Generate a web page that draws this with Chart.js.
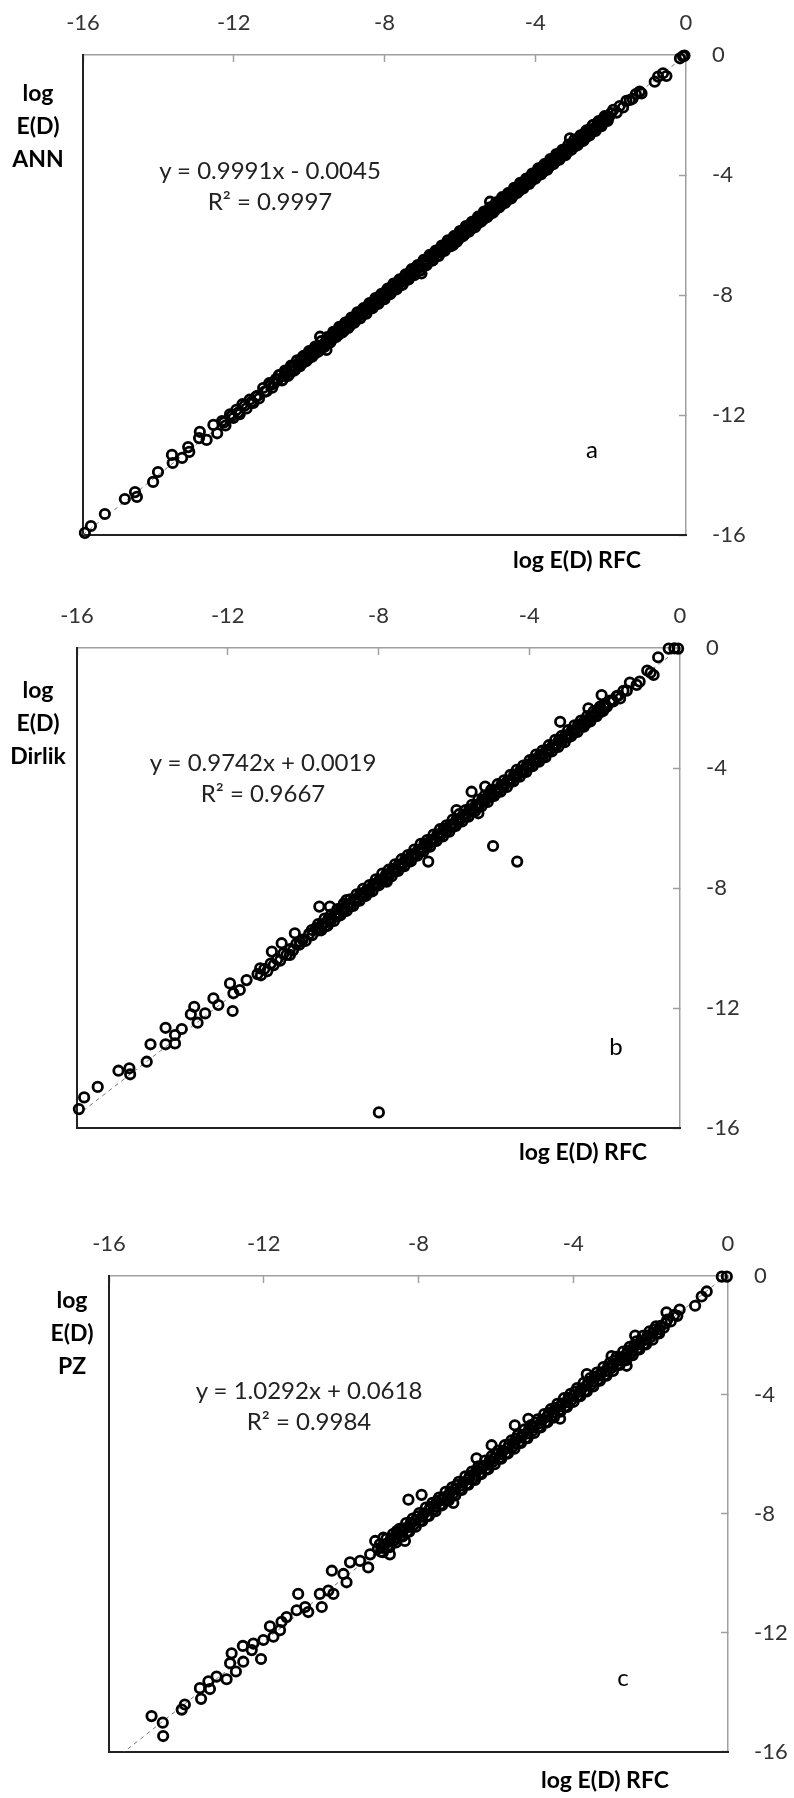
<!DOCTYPE html>
<html>
<head>
  <meta charset="utf-8">
  <title>log E(D) RFC vs ANN / Dirlik / PZ</title>
  <script src="https://cdn.jsdelivr.net/npm/chart.js"></script>
  <style>
    body { margin: 0; background: #fff; font-family: Lato, "Open Sans", sans-serif; }
    .page { position: relative; width: 794px; height: 1798px; overflow: hidden; }
    canvas { position: absolute; left: 0; }
    .note { position: absolute; white-space: nowrap; color: #000; transform: translateX(-50%); text-align: center; }
    .ytitle { font-weight: bold; font-size: 23px; line-height: 33px; }
    .xtitle { font-weight: bold; font-size: 23px; line-height: 30px; }
    .eq { font-size: 24px; line-height: 31px; color: #222; }
    .tag { font-size: 24px; line-height: 30px; }
  </style>
</head>
<body>
  <div class="page" id="page">
    <canvas id="chartA" width="794" height="590" style="top:0px"></canvas>
    <canvas id="chartB" width="794" height="590" style="top:590px"></canvas>
    <canvas id="chartC" width="794" height="618" style="top:1180px"></canvas>
  </div>

  <script>
    // axis ticks shared by both axes of every panel
    const axisTicks = [-16, -12, -8, -4, 0];
    const modelNames = ['ANN', 'Dirlik', 'PZ'];
    const panelTags = ['a', 'b', 'c'];
    // linear fits reported on each panel
    const fitSlope = [0.9991, 0.9742, 1.0292];
    const fitIntercept = [-0.0045, 0.0019, 0.0618];
    const fitR2 = [0.9997, 0.9667, 0.9984];

    // [log E(D) RFC, log E(D) model]
    const rfcVsAnn = [
      [-15.95,-15.93],[-15.79,-15.70],[-15.42,-15.30],[-14.89,-14.80],[-14.62,-14.57],[-14.57,-14.73],
      [-14.14,-14.23],[-14.01,-13.90],[-13.64,-13.33],[-13.62,-13.60],[-13.37,-13.43],[-13.21,-13.07],
      [-13.18,-13.23],[-12.90,-12.56],[-12.92,-12.77],[-12.72,-12.83],[-12.54,-12.33],[-12.44,-12.61],
      [-12.31,-12.20],[-12.22,-12.35],[-12.10,-11.98],[-12.01,-12.10],[-11.93,-11.83],[-11.84,-11.97],
      [-11.77,-11.64],[-11.66,-11.78],[-11.58,-11.49],[-11.48,-11.60],[-11.41,-11.39],[-11.33,-11.45],
      [-11.22,-11.10],[-11.13,-11.21],[-11.06,-10.94],[-10.98,-11.09],[-10.88,-10.80],[-10.77,-10.67],
      [-10.71,-10.83],[-10.62,-10.55],[-10.53,-10.64],[-10.45,-10.36],[-10.36,-10.47],[-10.24,-10.17],
      [-10.19,-10.28],[-10.10,-10.01],[-10.02,-10.12],[-9.93,-9.86],[-9.85,-9.96],[-9.78,-9.70],
      [-9.71,-9.39],[-9.63,-9.74],[-9.54,-9.83],[-9.47,-9.41],[-9.40,-9.50],[-9.31,-9.22],
      [-9.22,-9.32],[-9.15,-9.08],[-9.06,-9.17],[-8.99,-8.90],[-8.90,-9.00],[-8.82,-8.75],
      [-8.74,-8.67],[-8.66,-8.78],[-8.59,-8.50],[-8.50,-8.61],[-8.42,-8.34],[-8.35,-8.44],
      [-8.26,-8.18],[-8.18,-8.29],[-8.11,-8.02],[-8.02,-8.12],[-7.95,-7.87],[-7.86,-7.97],
      [-7.79,-7.70],[-7.70,-7.80],[-7.62,-7.55],[-7.55,-7.66],[-7.46,-7.38],[-7.38,-7.48],
      [-7.31,-7.22],[-7.22,-7.33],[-7.15,-7.07],[-7.07,-7.18],[-7.02,-7.28],[-6.98,-6.90],
      [-6.90,-7.01],[-6.83,-6.74],[-6.74,-6.85],[-6.66,-6.58],[-6.59,-6.69],[-6.50,-6.42],
      [-6.43,-6.53],[-6.35,-6.27],[-6.26,-6.37],[-6.18,-6.33],[-6.11,-6.03],[-6.03,-6.13],
      [-5.95,-5.86],[-5.87,-5.97],[-5.79,-5.71],[-5.71,-5.81],[-5.63,-5.55],[-5.55,-5.65],
      [-5.47,-5.39],[-5.39,-5.49],[-5.31,-5.23],[-5.23,-5.33],[-5.20,-4.89],[-5.15,-5.07],
      [-5.07,-5.17],[-4.99,-4.91],[-4.91,-5.01],[-4.83,-4.75],[-4.75,-4.85],[-4.67,-4.59],
      [-4.59,-4.69],[-4.51,-4.43],[-4.43,-4.53],[-4.35,-4.27],[-4.27,-4.36],[-4.19,-4.11],
      [-4.11,-4.21],[-4.03,-3.95],[-3.95,-4.04],[-3.87,-3.79],[-3.79,-3.89],[-3.71,-3.63],
      [-3.63,-3.72],[-3.55,-3.47],[-3.47,-3.56],[-3.39,-3.31],[-3.31,-3.40],[-3.23,-3.15],
      [-3.15,-3.24],[-3.08,-2.78],[-3.04,-2.97],[-2.96,-3.05],[-2.88,-2.80],[-2.80,-2.89],
      [-2.72,-2.64],[-2.64,-2.73],[-2.56,-2.48],[-2.46,-2.33],[-2.40,-2.50],[-2.32,-2.25],
      [-2.24,-2.33],[-2.16,-2.09],[-2.08,-2.17],[-1.99,-1.94],[-1.93,-1.83],[-1.84,-1.92],
      [-1.76,-1.70],[-1.67,-1.75],[-1.58,-1.53],[-1.49,-1.50],[-1.42,-1.46],[-1.33,-1.30],
      [-1.23,-1.22],[-1.18,-1.28],[-0.83,-0.89],[-0.74,-0.72],[-0.61,-0.61],[-0.52,-0.70],
      [-0.16,-0.11],[-0.08,-0.04],[-0.04,-0.02],
      [-12.26,-12.25],[-12.05,-12.03],[-11.88,-11.92],[-11.71,-11.69],[-11.53,-11.56],[-11.37,-11.36],
      [-11.18,-11.22],[-11.02,-11.00],[-10.93,-10.95],[-10.83,-10.81],[-10.67,-10.70],[-10.58,-10.57],
      [-10.49,-10.52],[-10.40,-10.39],[-10.30,-10.33],[-10.21,-10.22],[-10.14,-10.13],[-10.06,-10.09],
      [-9.97,-9.98],[-9.89,-9.90],[-9.81,-9.83],[-9.74,-9.72],[-9.67,-9.69],[-9.58,-9.59],
      [-9.50,-9.47],[-9.44,-9.46],[-9.35,-9.36],[-9.27,-9.26],[-9.19,-9.21],[-9.11,-9.12],
      [-9.02,-9.04],[-8.95,-8.94],[-8.86,-8.88],[-8.78,-8.80],[-8.70,-8.71],[-8.62,-8.63],
      [-8.55,-8.56],[-8.46,-8.48],[-8.39,-8.38],[-8.31,-8.33],[-8.22,-8.23],[-8.15,-8.16],
      [-8.07,-8.06],[-7.99,-8.02],[-7.91,-7.92],[-7.83,-7.82],[-7.75,-7.77],[-7.66,-7.68],
      [-7.59,-7.58],[-7.51,-7.52],[-7.42,-7.44],[-7.35,-7.34],[-7.27,-7.29],[-7.19,-7.20],
      [-7.11,-7.10],[-7.04,-7.06],[-6.94,-6.96],[-6.87,-6.86],[-6.79,-6.80],[-6.70,-6.72],
      [-6.63,-6.61],[-6.55,-6.57],[-6.47,-6.48],[-6.39,-6.38],[-6.31,-6.33],[-6.22,-6.24],
      [-6.15,-6.14],[-6.07,-6.09],[-5.99,-6.00],[-5.91,-5.90],[-5.83,-5.85],[-5.75,-5.76],
      [-5.67,-5.66],[-5.59,-5.61],[-5.51,-5.52],[-5.43,-5.42],[-5.35,-5.37],[-5.27,-5.28],
      [-5.19,-5.18],[-5.11,-5.13],[-5.03,-5.04],[-4.95,-4.94],[-4.87,-4.89],[-4.79,-4.80],
      [-4.71,-4.70],[-4.63,-4.65],[-4.55,-4.56],[-4.47,-4.46],[-4.39,-4.41],[-4.31,-4.32],
      [-4.23,-4.22],[-4.15,-4.17],[-4.07,-4.08],[-3.99,-3.98],[-3.91,-3.93],[-3.83,-3.84],
      [-3.75,-3.74],[-3.67,-3.69],[-3.59,-3.60],[-3.51,-3.50],[-3.43,-3.45],[-3.35,-3.36],
      [-3.27,-3.26],[-3.19,-3.21],[-3.11,-3.12],[-3.00,-3.01],[-2.92,-2.93],[-2.84,-2.85],
      [-2.76,-2.75],[-2.68,-2.70],[-2.60,-2.61],[-2.51,-2.50],[-2.44,-2.45],[-2.36,-2.36],
      [-2.28,-2.30],[-2.20,-2.19],[-2.12,-2.14],[-2.04,-2.05],
      [-10.80,-10.67],[-10.72,-10.85],[-10.64,-10.52],[-10.56,-10.70],[-10.48,-10.35],[-10.40,-10.52],
      [-10.32,-10.18],[-10.24,-10.37],[-10.16,-10.04],[-10.08,-10.21],[-10.00,-9.87],[-9.92,-10.06],
      [-9.84,-9.72],[-9.76,-9.89],[-9.68,-9.54],[-9.60,-9.73],[-9.52,-9.40],[-9.44,-9.58],
      [-9.36,-9.23],[-9.28,-9.40],[-9.20,-9.06],[-9.12,-9.25],[-9.04,-8.92],[-8.96,-9.10],
      [-8.88,-8.75],[-8.80,-8.92],[-8.72,-8.58],[-8.64,-8.77],[-8.56,-8.44],[-8.48,-8.62],
      [-8.40,-8.27],[-8.32,-8.44],[-8.24,-8.10],[-8.16,-8.29],[-8.08,-7.96],[-8.00,-8.14],
      [-7.92,-7.79],[-7.84,-7.96],[-7.76,-7.62],[-7.68,-7.81],[-7.60,-7.48],[-7.52,-7.66],
      [-7.44,-7.31],[-7.36,-7.48],[-7.28,-7.14],[-7.20,-7.33],[-7.12,-7.00],[-7.04,-7.18],
      [-6.96,-6.83],[-6.88,-7.00],[-6.80,-6.66],[-6.72,-6.85],[-6.64,-6.52],[-6.56,-6.70],
      [-6.48,-6.35],[-6.40,-6.52],[-6.32,-6.18],[-6.24,-6.37],[-6.16,-6.04],[-6.08,-6.22],
      [-6.00,-5.87],[-5.92,-6.04],[-5.84,-5.70],[-5.76,-5.89],[-5.68,-5.56],[-5.60,-5.74],
      [-5.52,-5.39],[-5.44,-5.56],[-5.36,-5.22],[-5.28,-5.41],[-5.20,-5.08],[-5.12,-5.26],
      [-5.04,-4.91],[-4.96,-5.08],[-4.88,-4.74],[-4.80,-4.93],[-4.72,-4.60],[-4.64,-4.78],
      [-4.56,-4.43],[-4.48,-4.60],[-4.40,-4.26],[-4.32,-4.45],[-4.24,-4.12],[-4.16,-4.30],
      [-4.08,-3.95],[-4.00,-4.12],[-3.92,-3.78],[-3.84,-3.97],[-3.76,-3.64],[-3.68,-3.82],
      [-3.60,-3.47],[-3.52,-3.64],[-3.44,-3.30],[-3.36,-3.49],[-3.28,-3.16],[-3.20,-3.34],
      [-3.12,-2.99],[-3.04,-3.16],[-2.96,-2.82],[-2.88,-3.01],[-2.80,-2.68],[-2.72,-2.86],
      [-2.64,-2.51],[-2.56,-2.68],[-2.48,-2.35],[-2.40,-2.53],[-2.32,-2.20],[-2.24,-2.37],
      [-2.16,-2.04],[-2.08,-2.20]
    ];

    const rfcVsDirlik = [
      [-15.95,-15.37],[-15.81,-14.98],[-15.45,-14.63],[-14.90,-14.09],[-14.61,-14.01],[-14.59,-14.21],
      [-14.15,-13.79],[-14.05,-13.21],[-13.65,-13.21],[-13.65,-12.66],[-13.40,-13.18],[-13.40,-12.90],
      [-13.22,-12.70],[-12.98,-12.21],[-12.89,-11.96],[-12.80,-12.49],[-12.60,-12.18],[-12.38,-11.68],
      [-12.25,-11.90],[-11.94,-11.18],[-11.87,-12.10],[-11.85,-11.51],[-11.68,-11.40],[-11.50,-11.07],
      [-11.14,-10.68],[-10.83,-10.12],[-10.57,-9.84],[-10.35,-10.23],[-10.22,-9.51],[-10.08,-9.79],
      [-9.77,-9.40],[-9.57,-8.62],[-9.29,-8.62],[-9.07,-8.90],[-8.85,-8.40],[-8.31,-8.07],
      [-7.99,-15.48],[-7.78,-7.79],
      [-11.21,-10.87],[-11.12,-10.91],[-11.03,-10.70],[-10.95,-10.77],[-10.86,-10.52],[-10.78,-10.57],
      [-10.69,-10.38],[-10.61,-10.42],[-10.52,-10.18],[-10.44,-10.23],[-10.35,-10.04],[-10.27,-10.08],
      [-10.18,-9.86],[-10.10,-9.89],[-10.01,-9.72],[-9.93,-9.76],[-9.84,-9.53],[-9.76,-9.57],
      [-9.67,-9.34],[-9.59,-9.41],[-9.50,-9.21],[-9.42,-9.28],[-9.33,-9.03],[-9.25,-9.06],
      [-9.16,-8.89],[-9.08,-8.93],[-8.99,-8.69],[-8.91,-8.74],[-8.82,-8.55],[-8.74,-8.60],
      [-8.65,-8.38],[-8.57,-8.41],[-8.48,-8.18],[-8.40,-8.25],[-8.23,-8.10],[-8.14,-7.87],
      [-8.06,-7.90],[-7.97,-7.72],[-7.89,-7.78],[-7.80,-7.55],[-7.72,-7.58],[-7.63,-7.36],
      [-7.55,-7.44],[-7.46,-7.23],[-7.38,-7.25],[-7.29,-7.05],[-7.21,-7.11],[-7.12,-6.88],
      [-7.04,-6.91],[-6.95,-6.74],[-6.87,-6.77],[-6.78,-6.53],[-6.70,-6.59],[-6.68,-7.12],
      [-6.61,-6.40],[-6.53,-6.45],[-6.44,-6.22],[-6.36,-6.26],[-6.27,-6.03],[-6.19,-6.10],
      [-6.10,-5.90],[-6.02,-5.96],[-5.93,-5.40],[-5.93,-5.72],[-5.85,-5.75],[-5.76,-5.58],
      [-5.68,-5.61],[-5.59,-5.38],[-5.53,-4.79],[-5.51,-5.43],[-5.42,-5.24],[-5.35,-5.51],
      [-5.34,-5.29],[-5.25,-5.06],[-5.17,-4.62],[-5.17,-5.10],[-5.08,-4.87],[-5.00,-4.94],
      [-4.96,-6.60],[-4.91,-4.74],[-4.83,-4.80],[-4.74,-4.56],[-4.66,-4.59],[-4.57,-4.42],
      [-4.49,-4.45],[-4.40,-4.22],[-4.32,-7.12],[-4.32,-4.27],[-4.23,-4.08],[-4.15,-4.13],
      [-4.06,-3.90],[-3.98,-3.94],[-3.89,-3.71],[-3.81,-3.78],[-3.72,-3.58],[-3.64,-3.64],
      [-3.55,-3.40],[-3.47,-3.43],[-3.38,-3.26],[-3.30,-3.29],[-3.21,-3.06],[-3.18,-2.46],
      [-3.13,-3.11],[-3.04,-2.92],[-2.96,-2.97],[-2.87,-2.75],[-2.79,-2.78],[-2.70,-2.55],
      [-2.62,-2.62],[-2.53,-2.42],[-2.43,-2.01],[-2.45,-2.47],[-2.36,-2.25],[-2.28,-2.28],
      [-2.19,-2.06],[-2.11,-2.14],[-2.08,-1.57],[-2.02,-1.93],[-1.94,-1.96],[-1.85,-1.75],
      [-1.77,-1.78],[-1.68,-1.60],[-1.59,-1.68],[-1.50,-1.43],[-1.41,-1.42],[-1.33,-1.15],
      [-1.15,-1.23],[-1.07,-1.12],[-0.87,-0.75],[-0.78,-0.82],[-0.70,-0.90],[-0.58,-0.31],
      [-0.30,-0.02],[-0.15,-0.01],[-0.05,-0.02],
      [-9.63,-9.39],[-9.46,-9.20],[-9.29,-9.07],[-9.12,-8.87],[-8.95,-8.74],[-8.78,-8.54],
      [-8.61,-8.41],[-8.44,-8.21],[-8.27,-8.08],[-8.10,-7.88],[-7.93,-7.74],[-7.76,-7.55],
      [-7.59,-7.41],[-7.42,-7.22],[-7.25,-7.08],[-7.08,-6.89],[-6.91,-6.75],[-6.74,-6.56],
      [-6.57,-6.42],[-6.40,-6.22],[-6.23,-6.09],[-6.06,-5.89],[-5.89,-5.76],[-5.72,-5.56],
      [-5.55,-5.43],[-5.38,-5.23],[-5.21,-5.10],[-5.04,-4.90],[-4.87,-4.76],[-4.70,-4.57],
      [-4.53,-4.43],[-4.36,-4.24],[-4.19,-4.10],[-4.02,-3.91],[-3.85,-3.77],[-3.68,-3.58],
      [-3.51,-3.44],[-3.34,-3.24],[-3.17,-3.11],[-3.00,-2.91],[-2.83,-2.78],[-2.66,-2.58],
      [-2.49,-2.45],[-2.32,-2.25],[-2.15,-2.11],[-1.98,-1.92],[-1.81,-1.78],[-1.64,-1.59],
      [-9.60,-9.20],[-9.52,-9.41],[-9.43,-9.02],[-9.35,-9.26],[-9.26,-8.89],[-9.18,-9.10],
      [-9.09,-8.70],[-9.01,-8.91],[-8.92,-8.52],[-8.84,-8.76],[-8.75,-8.38],[-8.67,-8.60],
      [-8.58,-8.21],[-8.50,-8.42],[-8.41,-8.03],[-8.33,-8.26],[-8.24,-7.90],[-8.16,-8.11],
      [-8.07,-7.71],[-7.99,-7.91],[-7.90,-7.52],[-7.82,-7.77],[-7.73,-7.39],[-7.65,-7.61],
      [-7.56,-7.21],[-7.48,-7.43],[-7.39,-7.04],[-7.31,-7.27],[-7.22,-6.90],[-7.14,-7.11],
      [-7.05,-6.72],[-6.97,-6.92],[-6.88,-6.53],[-6.80,-6.77],[-6.71,-6.40],[-6.63,-6.62],
      [-6.54,-6.22],[-6.46,-6.43],[-6.37,-6.04],[-6.29,-6.28],[-6.20,-5.91],[-6.12,-6.12],
      [-6.03,-5.72],[-5.95,-5.93],[-5.86,-5.54],[-5.78,-5.78],[-5.69,-5.40],[-5.61,-5.62],
      [-5.52,-5.23],[-5.44,-5.44],[-5.35,-5.05],[-5.27,-5.28],[-5.18,-4.92],[-5.10,-5.13],
      [-5.01,-4.73],[-4.93,-4.93],[-4.84,-4.54],[-4.76,-4.79],[-4.67,-4.41],[-4.59,-4.63],
      [-4.50,-4.23],[-4.42,-4.45],[-4.33,-4.06],[-4.25,-4.29],[-4.16,-3.92],[-4.08,-4.13],
      [-3.99,-3.74],[-3.91,-3.94],[-3.82,-3.55],[-3.74,-3.79],[-3.65,-3.42],[-3.57,-3.64],
      [-3.48,-3.24],[-3.40,-3.45],[-3.31,-3.06],[-3.23,-3.30],[-3.14,-2.93],[-3.06,-3.14],
      [-2.97,-2.74],[-2.89,-2.94],[-2.80,-2.58],[-2.72,-2.80],[-2.63,-2.42],[-2.55,-2.62],
      [-2.46,-2.27],[-2.38,-2.45],[-2.29,-2.11],[-2.21,-2.27],[-2.12,-1.95],[-2.04,-2.10]
    ];

    const rfcVsPz = [
      [-14.90,-14.80],[-14.61,-15.02],[-14.60,-15.47],[-14.12,-14.58],[-14.04,-14.41],[-13.65,-13.86],
      [-13.62,-14.22],[-13.43,-13.63],[-13.39,-13.89],[-13.22,-13.47],[-12.96,-13.56],[-12.87,-13.02],
      [-12.83,-12.69],[-12.72,-13.30],[-12.54,-12.44],[-12.53,-12.97],[-12.31,-12.58],[-12.27,-12.36],
      [-12.07,-12.88],[-12.01,-12.24],[-11.84,-11.78],[-11.75,-12.13],[-11.58,-11.91],[-11.54,-11.63],
      [-11.41,-11.47],[-11.15,-11.24],[-11.11,-10.69],[-10.93,-11.13],[-10.85,-11.30],[-10.55,-10.69],
      [-10.50,-11.13],[-10.33,-10.58],[-10.24,-9.91],[-10.20,-10.69],[-9.94,-10.02],[-9.86,-10.30],
      [-9.77,-9.63],[-9.51,-9.58],[-9.30,-9.80],[-9.25,-9.36],[-9.12,-8.91],[-8.91,-8.80],
      [-8.74,-9.36],[-8.56,-8.58],[-8.35,-8.91],[-8.26,-7.52],[-7.92,-7.36],[-7.10,-7.63],
      [-6.50,-6.13],[-6.11,-5.69],[-5.51,-5.02],[-5.16,-4.80],[-4.34,-4.80],[-3.65,-3.30],
      [-3.01,-2.69],[-2.62,-3.02],[-2.40,-2.00],[-1.59,-1.22],[-1.25,-1.13],[-0.85,-1.00],
      [-0.68,-0.69],[-0.55,-0.52],[-0.16,-0.02],[-0.03,-0.02],
      [-9.05,-9.17],[-8.97,-9.27],[-8.88,-9.02],[-8.80,-9.12],[-8.71,-8.82],[-8.63,-8.89],
      [-8.54,-8.62],[-8.46,-8.74],[-8.37,-8.49],[-8.29,-8.60],[-8.20,-8.30],[-8.12,-8.36],
      [-8.03,-8.08],[-7.95,-8.22],[-7.86,-7.98],[-7.78,-8.07],[-7.69,-7.76],[-7.61,-7.85],
      [-7.52,-7.57],[-7.44,-7.69],[-7.35,-7.44],[-7.27,-7.55],[-7.18,-7.25],[-7.10,-7.31],
      [-7.01,-7.03],[-6.93,-7.17],[-6.84,-6.93],[-6.76,-7.00],[-6.67,-6.71],[-6.59,-6.80],
      [-6.50,-6.53],[-6.42,-6.63],[-6.33,-6.39],[-6.25,-6.49],[-6.16,-6.20],[-6.08,-6.25],
      [-5.99,-5.99],[-5.91,-6.12],[-5.82,-5.88],[-5.74,-5.96],[-5.65,-5.66],[-5.57,-5.75],
      [-5.48,-5.47],[-5.40,-5.58],[-5.31,-5.34],[-5.23,-5.45],[-5.14,-5.15],[-5.06,-5.21],
      [-4.97,-4.93],[-4.89,-5.07],[-4.80,-4.83],[-4.72,-4.91],[-4.63,-4.61],[-4.55,-4.70],
      [-4.46,-4.43],[-4.38,-4.54],[-4.29,-4.29],[-4.21,-4.39],[-4.12,-4.10],[-4.04,-4.16],
      [-3.95,-3.89],[-3.87,-4.02],[-3.78,-3.78],[-3.70,-3.86],[-3.61,-3.56],[-3.53,-3.65],
      [-3.44,-3.38],[-3.36,-3.49],[-3.27,-3.24],[-3.19,-3.34],[-3.10,-3.05],[-3.02,-3.10],
      [-2.93,-2.84],[-2.85,-2.97],[-2.76,-2.73],[-2.68,-2.81],[-2.59,-2.51],[-2.51,-2.60],
      [-2.42,-2.33],[-2.34,-2.44],[-2.25,-2.20],[-2.17,-2.29],[-2.08,-2.00],[-2.00,-2.06],
      [-1.91,-1.80],[-1.83,-1.92],[-1.74,-1.68],[-1.66,-1.74],[-1.57,-1.47],[-1.48,-1.53],
      [-1.39,-1.31],[-1.31,-1.34],
      [-8.92,-9.14],[-8.75,-8.93],[-8.58,-8.79],[-8.41,-8.58],[-8.24,-8.44],[-8.07,-8.23],
      [-7.90,-8.09],[-7.73,-7.88],[-7.56,-7.74],[-7.39,-7.53],[-7.22,-7.39],[-7.05,-7.18],
      [-6.88,-7.04],[-6.71,-6.83],[-6.54,-6.69],[-6.37,-6.48],[-6.20,-6.34],[-6.03,-6.13],
      [-5.86,-5.99],[-5.69,-5.78],[-5.52,-5.64],[-5.35,-5.43],[-5.18,-5.29],[-5.01,-5.08],
      [-4.84,-4.94],[-4.67,-4.73],[-4.50,-4.59],[-4.33,-4.38],[-4.16,-4.24],[-3.99,-4.03],
      [-3.82,-3.89],[-3.65,-3.69],[-3.48,-3.54],[-3.31,-3.34],[-3.14,-3.19],[-2.97,-2.99],
      [-2.80,-2.84],[-2.63,-2.64],[-2.46,-2.49],[-2.29,-2.29],[-2.12,-2.14],[-1.95,-1.94],
      [-1.78,-1.79],[-1.61,-1.59],
      [-9.00,-9.02],[-8.92,-9.29],[-8.83,-8.84],[-8.75,-9.12],[-8.66,-8.68],[-8.58,-8.96],
      [-8.49,-8.50],[-8.41,-8.76],[-8.32,-8.31],[-8.24,-8.60],[-8.15,-8.16],[-8.07,-8.43],
      [-7.98,-7.97],[-7.90,-8.24],[-7.81,-7.79],[-7.73,-8.07],[-7.64,-7.63],[-7.56,-7.91],
      [-7.47,-7.45],[-7.39,-7.71],[-7.30,-7.26],[-7.22,-7.55],[-7.13,-7.11],[-7.05,-7.38],
      [-6.96,-6.92],[-6.88,-7.19],[-6.79,-6.74],[-6.71,-7.02],[-6.62,-6.58],[-6.54,-6.86],
      [-6.45,-6.40],[-6.37,-6.66],[-6.28,-6.21],[-6.20,-6.50],[-6.11,-6.06],[-6.03,-6.33],
      [-5.94,-5.87],[-5.86,-6.14],[-5.77,-5.69],[-5.69,-5.97],[-5.60,-5.53],[-5.52,-5.81],
      [-5.43,-5.35],[-5.35,-5.61],[-5.26,-5.16],[-5.18,-5.45],[-5.09,-5.01],[-5.01,-5.28],
      [-4.92,-4.82],[-4.84,-5.09],[-4.75,-4.64],[-4.67,-4.92],[-4.58,-4.48],[-4.50,-4.76],
      [-4.41,-4.30],[-4.33,-4.56],[-4.24,-4.11],[-4.16,-4.40],[-4.07,-3.96],[-3.99,-4.23],
      [-3.90,-3.77],[-3.82,-4.04],[-3.73,-3.59],[-3.65,-3.88],[-3.56,-3.43],[-3.48,-3.71],
      [-3.39,-3.25],[-3.31,-3.52],[-3.22,-3.06],[-3.14,-3.35],[-3.05,-2.91],[-2.97,-3.19],
      [-2.88,-2.72],[-2.80,-2.99],[-2.71,-2.54],[-2.63,-2.83],[-2.54,-2.38],[-2.46,-2.66],
      [-2.37,-2.20],[-2.29,-2.47],[-2.20,-2.01],[-2.12,-2.30],[-2.03,-1.86],[-1.95,-2.14],
      [-1.86,-1.69],[-1.78,-1.93]
    ];

    Chart.defaults.font.family = 'Lato';

    function axisStyle(position, size, padding) {
      const horizontal = position === 'top';
      return {
        type: 'linear', position: position, min: axisTicks[0], max: axisTicks[axisTicks.length - 1],
        afterBuildTicks: s => { s.ticks = axisTicks.map(v => ({ value: v })); },
        ticks: { color: '#333', font: { size: 22 }, padding: padding, maxRotation: 0 },
        grid: { drawOnChartArea: false, tickLength: -7, tickColor: '#a0a0a0', tickWidth: 1.5 },
        border: { color: '#a0a0a0', width: 1.5 },
        afterFit: s => { if (horizontal) s.height = size; else s.width = size; }
      };
    }

    // plain dark frame lines on the left and bottom edges of the plot
    function frameStyle(axis, position) {
      return {
        axis: axis, type: 'linear', position: position, min: axisTicks[0], max: axisTicks[axisTicks.length - 1],
        ticks: { display: false },
        grid: { drawOnChartArea: false, drawTicks: false },
        border: { color: '#222', width: 2 },
        afterFit: s => { if (axis === 'x') s.height = 0; else s.width = 0; }
      };
    }

    function drawPanel(canvasId, points, k, box) {
      const lo = axisTicks[0], hi = axisTicks[axisTicks.length - 1];
      const trend = [lo, hi].map(x => ({ x: x, y: fitSlope[k] * x + fitIntercept[k] }));
      new Chart(document.getElementById(canvasId), {
        type: 'scatter',
        data: {
          datasets: [
            {
              data: points.map(p => ({ x: p[0], y: p[1] })),
              xAxisID: 'x', yAxisID: 'y', clip: false,
              pointStyle: 'circle', pointRadius: 4.7, pointBorderWidth: 2.8,
              borderColor: '#000', backgroundColor: 'rgba(0,0,0,0)'
            },
            {
              type: 'line', data: trend, xAxisID: 'x', yAxisID: 'y',
              borderColor: '#777', borderWidth: 1, borderDash: [4, 4], pointRadius: 0, fill: false
            }
          ]
        },
        options: {
          responsive: false, animation: false, events: [],
          layout: { padding: { left: box.left, top: 0, right: 0, bottom: box.bottom } },
          plugins: { legend: { display: false }, tooltip: { enabled: false } },
          scales: {
            x: axisStyle('top', box.axisTop, 26),
            y: axisStyle('right', box.axisRight, 33),
            xb: frameStyle('x', 'bottom'),
            yl: frameStyle('y', 'left')
          }
        }
      });
    }

    drawPanel('chartA', rfcVsAnn, 0, { left: 83, axisTop: 55, axisRight: 108, bottom: 55 });
    drawPanel('chartB', rfcVsDirlik, 1, { left: 77, axisTop: 58, axisRight: 114, bottom: 52 });
    drawPanel('chartC', rfcVsPz, 2, { left: 109, axisTop: 96, axisRight: 66, bottom: 42 });

    // titles, fit equations and panel letters
    const notePlaces = [
      { ytitle: [38, 76], eq: [270, 154], tag: [592, 434], xtitle: [577, 544] },
      { ytitle: [38, 673], eq: [263, 746], tag: [616, 1031], xtitle: [583, 1136] },
      { ytitle: [72, 1283], eq: [309, 1374], tag: [623, 1662], xtitle: [605, 1764] }
    ];
    const page = document.getElementById('page');
    function addNote(cls, pos, html) {
      const d = document.createElement('div');
      d.className = 'note ' + cls;
      d.style.left = pos[0] + 'px';
      d.style.top = pos[1] + 'px';
      d.innerHTML = html;
      page.appendChild(d);
    }
    notePlaces.forEach((p, k) => {
      const b = fitIntercept[k];
      const eqLine = 'y = ' + fitSlope[k].toFixed(4) + 'x ' + (b < 0 ? '- ' : '+ ') + Math.abs(b).toFixed(4);
      addNote('ytitle', p.ytitle, 'log<br>E(D)<br>' + modelNames[k]);
      addNote('eq', p.eq, eqLine + '<br>R² = ' + fitR2[k].toFixed(4));
      addNote('tag', p.tag, panelTags[k]);
      addNote('xtitle', p.xtitle, 'log E(D) RFC');
    });
  </script>
</body>
</html>
